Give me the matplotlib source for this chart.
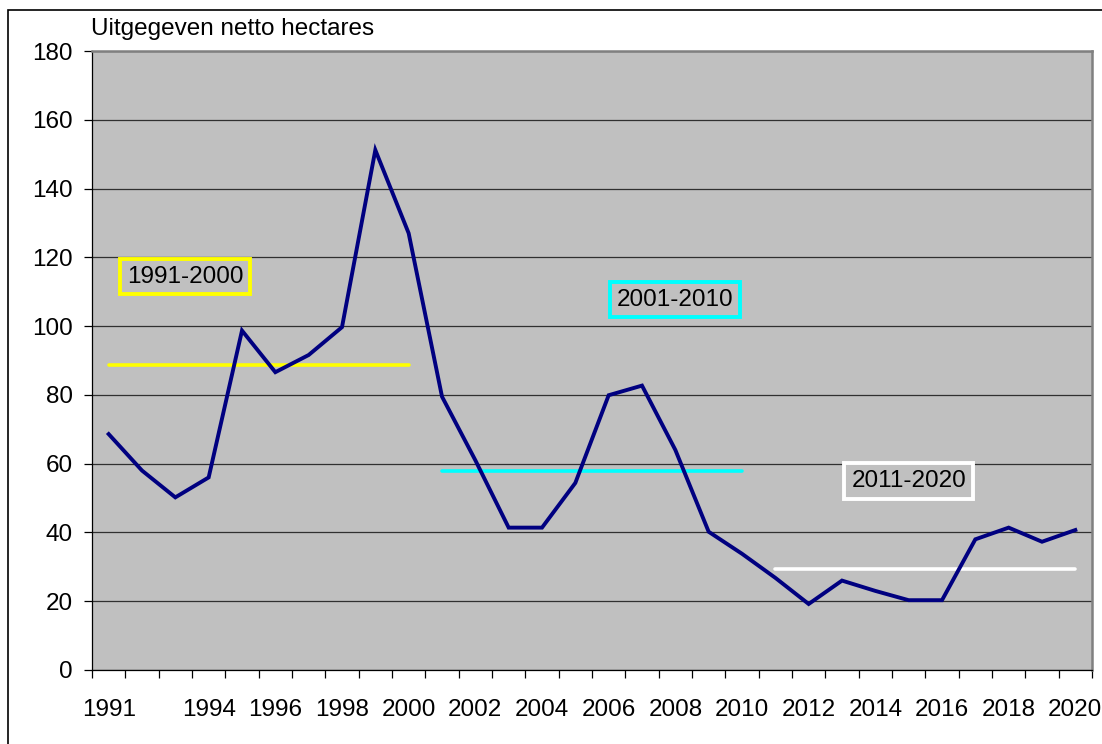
import numpy as np
import matplotlib
matplotlib.use("Agg")
import matplotlib.pyplot as plt
from matplotlib.patches import Rectangle

plt.rcParams["font.family"] = ["Liberation Sans", "DejaVu Sans"]

# ── data ──────────────────────────────────────────────────────────────────────
years = list(range(1991, 2021))
hectares = [68.6, 58.0, 50.2, 56.0, 98.7, 86.6, 91.6, 99.7, 151.2, 127.0,
            79.5, 61.0, 41.4, 41.4, 54.4, 79.9, 82.7, 64.0, 40.2, 33.8,
            26.8, 19.2, 26.0, 23.0, 20.3, 20.3, 38.0, 41.4, 37.3, 40.7]
tick_years = [1991, 1994, 1996, 1998, 2000, 2002, 2004, 2006, 2008, 2010,
              2012, 2014, 2016, 2018, 2020]

periods      = ["1991-2000", "2001-2010", "2011-2020"]
period_start = [1991, 2001, 2011]
period_end   = [2000, 2010, 2020]
period_avg   = [88.7, 57.8, 29.4]
period_color = ["#FFFF00", "#00FFFF", "#FFFFFF"]

# box label centres (in year / value units)
label_x = [1993.3, 2008.0, 2015.0]
label_y = [114.4, 107.7, 55.0]

NAVY = "#000080"
BG   = "#C0C0C0"

# ── figure ────────────────────────────────────────────────────────────────────
W, H = 1102, 744
fig = plt.figure(figsize=(W / 100, H / 100), dpi=100)
ax = fig.add_axes([92 / W, 1 - 670 / H, 1000 / W, 619 / H])
ax.set_facecolor(BG)

# outer chart border (only top and left visible in the original)
fig.patches.append(Rectangle((8 / W, -0.1), 1.2, 1 - 10 / H + 0.1,
                             transform=fig.transFigure, fill=False,
                             edgecolor="black", lw=1.2))

xi = np.array(years) - years[0]
ax.plot(xi, hectares, color=NAVY, lw=2.8, solid_joinstyle="miter", zorder=4)

for s, e, a, c in zip(period_start, period_end, period_avg, period_color):
    ax.plot([s - years[0], e - years[0]], [a, a], color=c, lw=2.6,
            solid_capstyle="round", zorder=3)

for txt, lx, ly, c in zip(periods, label_x, label_y, period_color):
    ax.text(lx - years[0], ly, txt, fontsize=17.5, ha="center", va="center",
            zorder=5,
            bbox=dict(boxstyle="square,pad=0.28", facecolor=BG, edgecolor=c,
                      lw=2.8))

ax.set_xlim(-0.5, len(years) - 0.5)
ax.set_ylim(0, 180)
ax.set_yticks(range(0, 181, 20))
ax.yaxis.grid(True, color="#303030", lw=0.9)
ax.set_axisbelow(True)

ax.set_xticks([y - years[0] for y in tick_years])
ax.set_xticklabels([str(y) for y in tick_years])
ax.set_xticks(np.arange(-0.5, len(years)), minor=True)
ax.tick_params(axis="x", which="major", length=0, pad=21, labelsize=17.5)
ax.tick_params(axis="x", which="minor", length=5.5, width=0.9, direction="out")
ax.tick_params(axis="y", length=6, width=0.9, pad=8, labelsize=17.5)

for side in ["top", "right"]:
    ax.spines[side].set_color("#808080")
    ax.spines[side].set_linewidth(1.8)
for side in ["left", "bottom"]:
    ax.spines[side].set_color("black")
    ax.spines[side].set_linewidth(0.9)

fig.text(91 / W, 1 - 35 / H, "Uitgegeven netto hectares", fontsize=17.5,
         ha="left", va="baseline")

fig.savefig("out.png", dpi=100)
